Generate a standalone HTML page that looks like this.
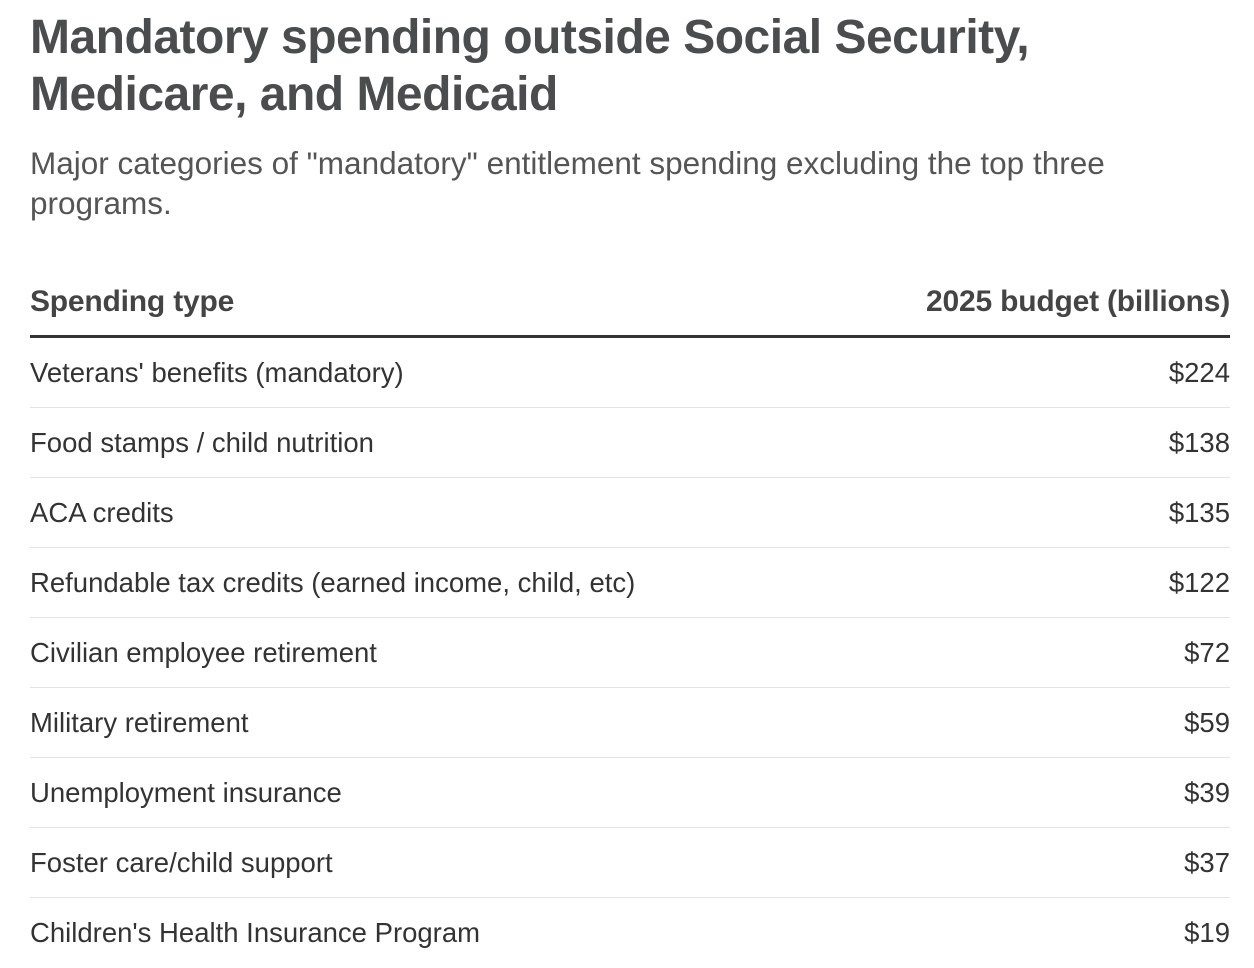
<!DOCTYPE html>
<html><head><meta charset="utf-8"><style>
body{margin:0;width:1254px;height:964px;background:#fff;font-family:"Liberation Sans",sans-serif;position:relative;overflow:hidden;color:#333}
.t{position:absolute;left:30px;font-weight:bold;font-size:48px;color:#4a4c4d;letter-spacing:-0.5px;line-height:1;white-space:nowrap}
.s{position:absolute;left:30px;font-size:31.5px;color:#555;line-height:40px;width:1130px}
.h{position:absolute;font-weight:bold;font-size:30px;color:#444;letter-spacing:-0.2px}
.row{position:absolute;left:30px;width:1200px;height:70px;border-bottom:1px solid #e3e3e3;box-sizing:border-box;font-size:27.5px;color:#333}
.row.last{border-bottom:none}
.row span{position:absolute;top:19px}
.row .v{right:0}
</style></head><body>
<div class="t" style="top:14px">Mandatory spending outside Social Security,</div>
<div class="t" style="top:71px">Medicare, and Medicaid</div>
<div class="s" style="top:143px">Major categories of "mandatory" entitlement spending excluding the top three programs.</div>
<div class="h" style="left:30px;top:285px">Spending type</div>
<div class="h" style="right:24px;top:285px">2025 budget (billions)</div>
<div style="position:absolute;left:30px;top:335px;width:1200px;height:3px;background:#333"></div>
<div id="rows"></div>
<script>
const categories=["Veterans' benefits (mandatory)","Food stamps / child nutrition","ACA credits","Refundable tax credits (earned income, child, etc)","Civilian employee retirement","Military retirement","Unemployment insurance","Foster care/child support","Children's Health Insurance Program"];
const values=[224,138,135,122,72,59,39,37,19];
const c=document.getElementById('rows');
categories.forEach((name,i)=>{
  const r=document.createElement('div');
  r.className='row'+(i===categories.length-1?' last':'');
  r.style.top=(338+i*70)+'px';
  
  
  const a=document.createElement('span');
  a.textContent=name;
  
  
  const b=document.createElement('span');
  b.className='v';
  b.textContent='$'+values[i];
  
  
  r.appendChild(a);r.appendChild(b);c.appendChild(r);
});
</script>
</body></html>
